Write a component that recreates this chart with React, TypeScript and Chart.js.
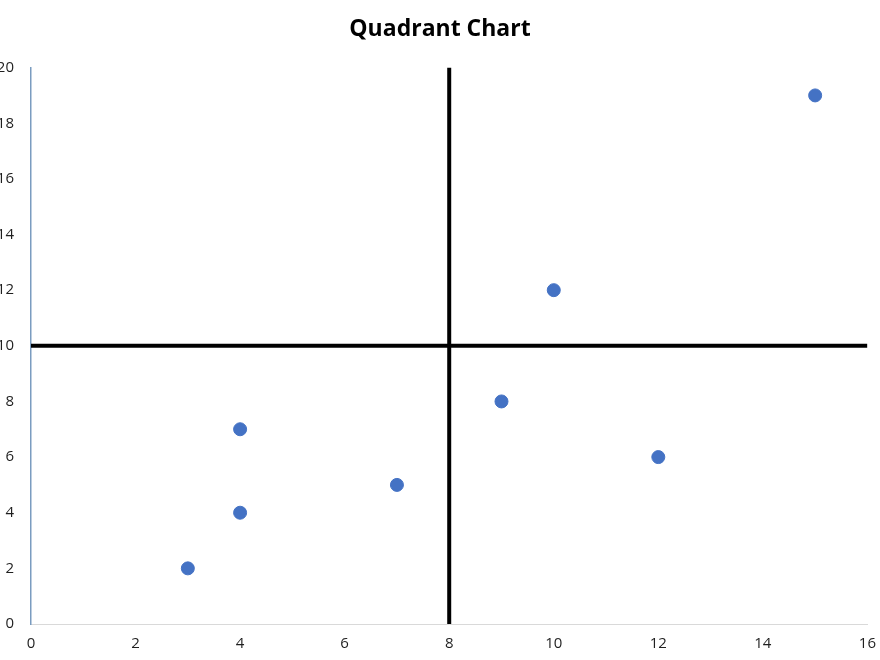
import React, { useEffect, useRef } from "react";
import { Chart, registerables } from "chart.js";

Chart.register(...registerables);

const pointX = [3, 4, 4, 7, 9, 10, 12, 15];
const pointY = [2, 4, 7, 5, 8, 12, 6, 19];
const vLineX = [8, 8];
const vLineY = [0, 20];
const hLineX = [0, 16];
const hLineY = [10, 10];
const titleText = "Quadrant Chart";

export default function App() {
  const ref = useRef<HTMLCanvasElement | null>(null);
  useEffect(() => {
    document.body.style.margin = "0";
    document.body.style.overflow = "hidden";
    const font = "'Open Sans', 'Noto Sans', sans-serif";
    const chart = new Chart(ref.current!, {
      type: "scatter",
      data: {
        datasets: [
          {
            type: "line",
            data: vLineX.map((x, i) => ({ x, y: vLineY[i] })),
            borderColor: "#000000",
            borderWidth: 4,
            pointRadius: 0,
            fill: false,
            order: 2,
          },
          {
            type: "line",
            data: hLineX.map((x, i) => ({ x, y: hLineY[i] })),
            borderColor: "#000000",
            borderWidth: 4,
            pointRadius: 0,
            fill: false,
            order: 2,
          },
          {
            type: "scatter",
            data: pointX.map((x, i) => ({ x, y: pointY[i] })),
            backgroundColor: "#4472C4",
            borderColor: "#4472C4",
            pointRadius: 6.5,
            order: 1,
          },
        ],
      },
      options: {
        animation: false,
        responsive: false,
        maintainAspectRatio: false,
        layout: { padding: { left: 19, right: 6, top: 0, bottom: 0 } },
        plugins: {
          legend: { display: false },
          tooltip: { enabled: false },
          title: {
            display: true,
            text: titleText,
            color: "#000000",
            font: { family: font, size: 23, weight: "bold" },
            padding: { top: 16, bottom: 24 },
          },
        },
        scales: {
          x: {
            type: "linear",
            min: 0,
            max: 16,
            ticks: {
              stepSize: 2,
              color: "#1f1f1f",
              font: { family: font, size: 15 },
              padding: 11,
            },
            grid: { display: false, drawTicks: false },
            border: { display: true, color: "#d9d9d9", width: 1 },
            afterFit: (s: any) => {
              s.height = 36;
            },
          },
          y: {
            type: "linear",
            min: 0,
            max: 20,
            ticks: {
              stepSize: 2,
              color: "#1f1f1f",
              font: { family: font, size: 15 },
              padding: 17,
            },
            grid: { display: false, drawTicks: false },
            border: { display: true, color: "#7a9cc0", width: 1.5 },
            afterFit: (s: any) => {
              s.width = 32;
            },
          },
        },
      },
    } as any);
    return () => chart.destroy();
  }, []);
  return (
    <div style={{ position: "fixed", left: -20, top: 0, width: 907, height: 660 }}>
      <canvas ref={ref} width={907} height={660} style={{ display: "block" }} />
    </div>
  );
}
